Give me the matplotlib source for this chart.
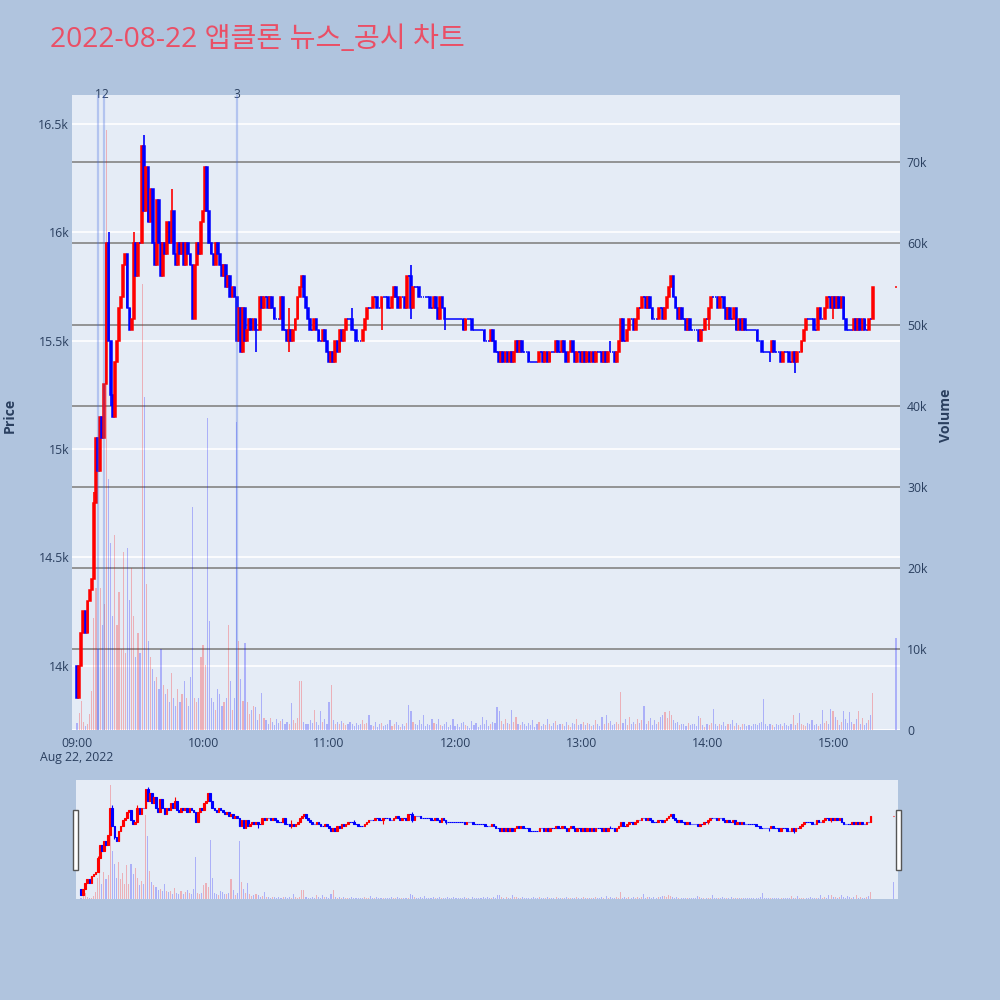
import numpy as np
import matplotlib
matplotlib.use("Agg")
import matplotlib.pyplot as plt
from matplotlib.patches import Rectangle
from matplotlib.transforms import blended_transform_factory

plt.rcParams['font.family'] = ['Open Sans', 'Noto Sans CJK KR', 'DejaVu Sans']

"""Data (1-minute candles, x = minutes after 09:00)"""
title = '2022-08-22 앱클론 뉴스_공시 차트'
first_open = 14000

close_0900 = [13850, 14000, 14150, 14250, 14150, 14300, 14350, 14400, 14750, 15050,
              14900, 15150, 15050, 15300, 15950, 15500, 15250, 15150, 15400, 15500,
              15650, 15700, 15850, 15900, 15650, 15550, 15600, 15950, 15800, 15950,
              15950, 16400, 16100, 16300, 16050, 16200, 15950, 15850, 16150, 15950,
              15800, 15950, 15900, 16050, 15950, 16100, 15900, 15850, 15950, 15900,
              15950, 15850, 15950, 15900, 15850, 15600, 15850, 15950, 15900, 16050]
close_1000 = [16100, 16300, 16100, 15950, 15900, 15850, 15950, 15900, 15850, 15800,
              15850, 15750, 15800, 15700, 15750, 15700, 15500, 15650, 15450, 15650,
              15500, 15550, 15600, 15550, 15600, 15550, 15550, 15700, 15650, 15700,
              15700, 15650, 15700, 15650, 15600, 15600, 15600, 15700, 15550, 15550,
              15500, 15550, 15500, 15550, 15600, 15700, 15750, 15800, 15700, 15650,
              15600, 15550, 15550, 15600, 15550, 15500, 15500, 15550, 15500, 15450]
close_1100 = [15400, 15450, 15400, 15500, 15450, 15550, 15500, 15550, 15600, 15600,
              15600, 15550, 15550, 15500, 15500, 15500, 15550, 15600, 15650, 15650,
              15650, 15700, 15700, 15650, 15650, 15700, 15700, 15700, 15650, 15650,
              15700, 15750, 15700, 15650, 15700, 15700, 15650, 15800, 15800, 15650,
              15750, 15750, 15750, 15700, 15700, 15700, 15700, 15700, 15650, 15650,
              15700, 15650, 15600, 15700, 15650, 15600, 15600, 15600, 15600, 15600]
close_1200 = [15600, 15600, 15600, 15600, 15550, 15600, 15600, 15600, 15550, 15550,
              15550, 15550, 15550, 15550, 15500, 15500, 15500, 15550, 15500, 15450,
              15450, 15400, 15450, 15400, 15450, 15400, 15450, 15400, 15450, 15500,
              15450, 15500, 15450, 15450, 15450, 15400, 15400, 15400, 15400, 15400,
              15450, 15450, 15400, 15450, 15400, 15450, 15450, 15450, 15500, 15450,
              15450, 15500, 15450, 15400, 15450, 15500, 15450, 15400, 15450, 15450]
close_1300 = [15400, 15450, 15400, 15450, 15400, 15450, 15400, 15450, 15450, 15450,
              15400, 15450, 15400, 15450, 15450, 15450, 15400, 15450, 15500, 15600,
              15500, 15500, 15550, 15600, 15600, 15550, 15600, 15650, 15650, 15700,
              15700, 15650, 15700, 15650, 15600, 15600, 15600, 15650, 15650, 15600,
              15650, 15700, 15750, 15800, 15700, 15650, 15600, 15650, 15600, 15600,
              15550, 15600, 15550, 15550, 15550, 15550, 15500, 15550, 15550, 15600]
close_1400 = [15600, 15650, 15700, 15700, 15700, 15650, 15700, 15700, 15650, 15600,
              15650, 15600, 15600, 15650, 15550, 15600, 15550, 15600, 15550, 15550,
              15550, 15550, 15550, 15550, 15500, 15500, 15450, 15450, 15450, 15450,
              15450, 15500, 15450, 15450, 15450, 15400, 15450, 15450, 15450, 15400,
              15400, 15450, 15400, 15450, 15450, 15500, 15550, 15600, 15600, 15600,
              15600, 15550, 15550, 15650, 15600, 15600, 15650, 15700, 15700, 15650]
close_1500 = [15700, 15650, 15700, 15650, 15700, 15600, 15550, 15550, 15550, 15550,
              15600, 15550, 15600, 15550, 15600, 15550, 15550, 15600, 15600, 15750]
close_auction = [15750]   # 15:30

hi_wick = {8: 14800, 15: 16000, 27: 16000, 32: 16450, 45: 16200, 101: 15650,
           131: 15650, 159: 15850, 254: 15500}
lo_wick = {8: 14450, 16: 15200, 85: 15450, 101: 15450, 145: 15550, 159: 15600,
           175: 15550, 301: 15550, 330: 15400, 342: 15350, 360: 15600}

vol_k = [0.9, 2.1, 3.6, 1.0, 0.5, 0.7, 2.0, 4.8, 13.8, 17.5,
         10.0, 17.5, 13.0, 15.5, 74.0, 31.0, 23.0, 14.0, 24.0, 13.0,
         17.0, 10.0, 22.0, 9.5, 22.5, 16.0, 20.0, 14.0, 9.0, 12.0,
         9.5, 55.0, 41.0, 18.0, 11.0, 9.0, 7.5, 6.0, 6.5, 5.0,
         10.0, 5.5, 4.5, 5.0, 3.5, 7.0, 4.0, 3.0, 5.0, 3.5,
         4.5, 6.0, 4.0, 3.0, 6.5, 27.5, 4.0, 3.5, 4.0, 9.0,
         10.5, 8.0, 38.5, 13.5, 4.0, 3.5, 2.5, 5.0, 4.5, 3.0,
         3.5, 4.0, 13.0, 6.0, 2.5, 4.0, 38.0, 11.0, 6.3, 3.6,
         10.7, 3.4, 2.0, 2.5, 3.0, 2.8, 1.2, 2.0, 4.6, 1.5,
         1.2, 0.8, 1.5, 1.0, 0.6, 1.3, 0.9, 1.1, 1.4, 0.7,
         1.0, 0.8, 3.3, 1.2, 0.9, 1.5, 6.0, 6.1, 1.0, 0.8,
         0.7, 1.2, 0.9, 2.5, 1.0, 0.6, 2.3, 1.0, 1.4, 0.8,
         3.4, 5.6, 1.2, 0.8, 1.0, 0.7, 1.1, 0.9, 0.6, 0.8,
         1.0, 0.7, 0.5, 0.9, 0.6, 0.8, 1.2, 0.7, 0.9, 1.8,
         0.6, 0.5, 1.0, 0.4, 0.7, 0.9, 0.5, 0.6, 0.8, 1.2,
         0.5, 0.7, 1.0, 0.6, 0.4, 0.8, 0.5, 0.9, 3.1, 2.3,
         1.0, 0.8, 0.6, 1.2, 0.7, 1.9, 0.5, 0.8, 0.6, 1.4,
         0.9, 0.7, 1.3, 0.6, 0.5, 0.8, 1.0, 0.4, 0.6, 1.3,
         0.5, 0.7, 0.4, 0.9, 1.0, 0.6, 0.5, 0.3, 1.1, 0.6,
         0.9, 0.4, 0.6, 1.6, 0.8, 1.2, 0.5, 0.7, 1.0, 0.9,
         2.8, 2.3, 1.1, 0.8, 1.4, 0.9, 0.7, 2.5, 1.0, 1.6,
         0.8, 0.6, 1.0, 0.7, 0.5, 0.9, 0.6, 1.2, 0.4, 0.7,
         1.0, 0.5, 0.8, 0.6, 1.3, 0.7, 0.5, 0.9, 1.1, 0.6,
         0.8, 0.7, 0.5, 1.0, 0.6, 0.4, 0.9, 0.7, 1.3, 0.6,
         0.8, 1.0, 0.6, 0.9, 0.7, 0.5, 0.6, 1.2, 0.8, 0.5,
         1.6, 0.7, 1.8, 0.9, 1.1, 0.6, 0.8, 1.0, 0.7, 4.7,
         0.9, 1.3, 0.6, 1.6, 0.8, 1.0, 0.7, 1.4, 0.9, 1.2,
         3.0, 0.8, 1.1, 1.5, 0.6, 1.2, 0.8, 1.0, 1.6, 1.9,
         2.2, 1.5, 2.4, 1.8, 1.2, 0.9, 1.0, 0.6, 0.8, 0.7,
         0.5, 0.9, 0.6, 0.7, 0.8, 0.5, 1.7, 1.5, 0.6, 0.4,
         0.7, 0.6, 0.9, 2.6, 0.8, 0.5, 0.7, 0.6, 1.0, 0.5,
         0.7, 0.8, 1.2, 0.5, 0.9, 0.6, 0.4, 0.8, 0.7, 0.5,
         0.6, 0.5, 0.8, 0.7, 0.6, 0.9, 1.0, 3.8, 0.7, 0.5,
         0.8, 0.6, 0.4, 0.7, 0.6, 0.8, 0.5, 0.9, 0.6, 0.5,
         0.7, 1.8, 0.6, 0.9, 2.1, 0.8, 0.6, 0.5, 0.9, 0.7,
         1.2, 0.6, 0.8, 0.5, 0.7, 2.5, 0.9, 1.1, 0.8, 2.6,
         2.3, 1.6, 1.2, 0.6, 1.0, 2.4, 1.4, 0.9, 2.2, 1.0,
         0.8, 1.3, 2.4, 0.7, 1.5, 0.6, 0.9, 1.2, 1.8, 4.6,
         11.3]

news_min = [10, 13, 76]
news_lbl = ['1', '2', '3']

hour_ticks = [0, 60, 120, 180, 240, 300, 360]
hour_lbl = ['09:00', '10:00', '11:00', '12:00', '13:00', '14:00', '15:00']
price_ticks = [14000, 14500, 15000, 15500, 16000, 16500]
price_lbl = ['14k', '14.5k', '15k', '15.5k', '16k', '16.5k']
vol_ticks = [0, 10000, 20000, 30000, 40000, 50000, 60000, 70000]
vol_lbl = ['0', '10k', '20k', '30k', '40k', '50k', '60k', '70k']

"""Build candles"""
closes = close_0900 + close_1000 + close_1100 + close_1200 + close_1300 + close_1400 + close_1500 + close_auction
minutes = np.array(list(range(len(closes) - 1)) + [390])
c = np.array(closes, dtype=float)
o = np.concatenate([[first_open], c[:-1]])
hi = np.maximum(o, c)
lo = np.minimum(o, c)
for k, v in hi_wick.items():
    hi[k] = max(hi[k], v)
for k, v in lo_wick.items():
    lo[k] = min(lo[k], v)
vol = np.array(vol_k) * 1000

RED, BLUE = '#ff0000', '#0000ff'
up = c > o
up[-1] = True
cols = np.where(up, RED, BLUE)
vcols = [(1, 0, 0, 0.25) if a > b else (0, 0, 1, 0.25) for a, b in zip(c, o)]

TXT = '#2a3f5f'
PLOTBG = '#e5ecf6'
XLIM = (-2.4, 391.9)
PLIM = (13703, 16634)
VLIM = (0, 78300)

fig = plt.figure(figsize=(10, 10), dpi=100, facecolor='#b0c4de')


def candles(ax, axv, lw_wick, lw_body, bw, vw):
    ax.vlines(minutes, lo, hi, colors=cols, lw=lw_wick, zorder=3)
    ax.bar(minutes, np.abs(c - o), bottom=np.minimum(o, c), width=bw,
           color=cols, edgecolor=cols, linewidth=lw_body, zorder=4)
    axv.bar(minutes, vol, width=vw, color=vcols, linewidth=0, zorder=2)


"""Main chart"""
ax = fig.add_axes([0.072, 0.270, 0.828, 0.635])
ax.set_facecolor(PLOTBG)
axv = ax.twinx()
ax.set_xlim(*XLIM)
ax.set_ylim(*PLIM)
axv.set_ylim(*VLIM)

for p in price_ticks:
    ax.axhline(p, color='white', lw=1.2, zorder=1)
vtr = blended_transform_factory(ax.transAxes, axv.transData)
for v in vol_ticks[1:]:
    ax.plot([0, 1], [v, v], transform=vtr, color='#8c8c8c', lw=1.3, zorder=1.5)
ax.plot([0, 1], [0, 0], transform=vtr, color='white', lw=2, zorder=1.5)

candles(ax, axv, 1.2, 1.1, 0.85, 0.55)

for m, t in zip(news_min, news_lbl):
    axv.axvline(m, color='royalblue', alpha=0.3, lw=1.6, zorder=5)
    axv.text(m, VLIM[1], t, ha='center', va='center', fontsize=8.6, color=TXT)

for a in (ax, axv):
    for s in a.spines.values():
        s.set_visible(False)
ax.set_yticks(price_ticks)
ax.set_yticklabels(price_lbl)
axv.set_yticks(vol_ticks)
axv.set_yticklabels(vol_lbl)
ax.set_xticks(hour_ticks)
ax.set_xticklabels(hour_lbl)
ax.tick_params(axis='both', length=0, labelsize=8.8, labelcolor=TXT)
ax.tick_params(axis='y', pad=2)
ax.tick_params(axis='x', pad=5)
axv.tick_params(axis='y', length=0, pad=5, labelsize=8.8, labelcolor=TXT)

fig.text(0.077, 0.242, 'Aug 22, 2022', ha='center', va='center', fontsize=8.8, color=TXT)
fig.text(0.010, 0.585, 'Price', rotation=90, ha='center', va='center',
         fontsize=10.2, fontweight='bold', color=TXT)
fig.text(0.946, 0.585, 'Volume', rotation=90, ha='center', va='center',
         fontsize=10.2, fontweight='bold', color=TXT)
fig.text(0.05, 0.96, title, ha='left', va='center', fontsize=20.3, color='#ea4f66')

"""Range slider"""
axs = fig.add_axes([0.076, 0.101, 0.8215, 0.119])
axs.set_facecolor(PLOTBG)
axsv = axs.twinx()
axs.set_xlim(*XLIM)
axs.set_ylim(13760, 16610)
axsv.set_ylim(0, 77500)
candles(axs, axsv, 0.8, 0.8, 0.8, 0.5)
for a in (axs, axsv):
    a.set_xticks([])
    a.set_yticks([])
    for s in a.spines.values():
        s.set_visible(False)

for hx in (0.073, 0.896):
    fig.add_artist(Rectangle((hx, 0.130), 0.0045, 0.060, transform=fig.transFigure,
                             facecolor='white', edgecolor='#555555', lw=1.0))

fig.savefig('out.png', dpi=100, facecolor=fig.get_facecolor())
